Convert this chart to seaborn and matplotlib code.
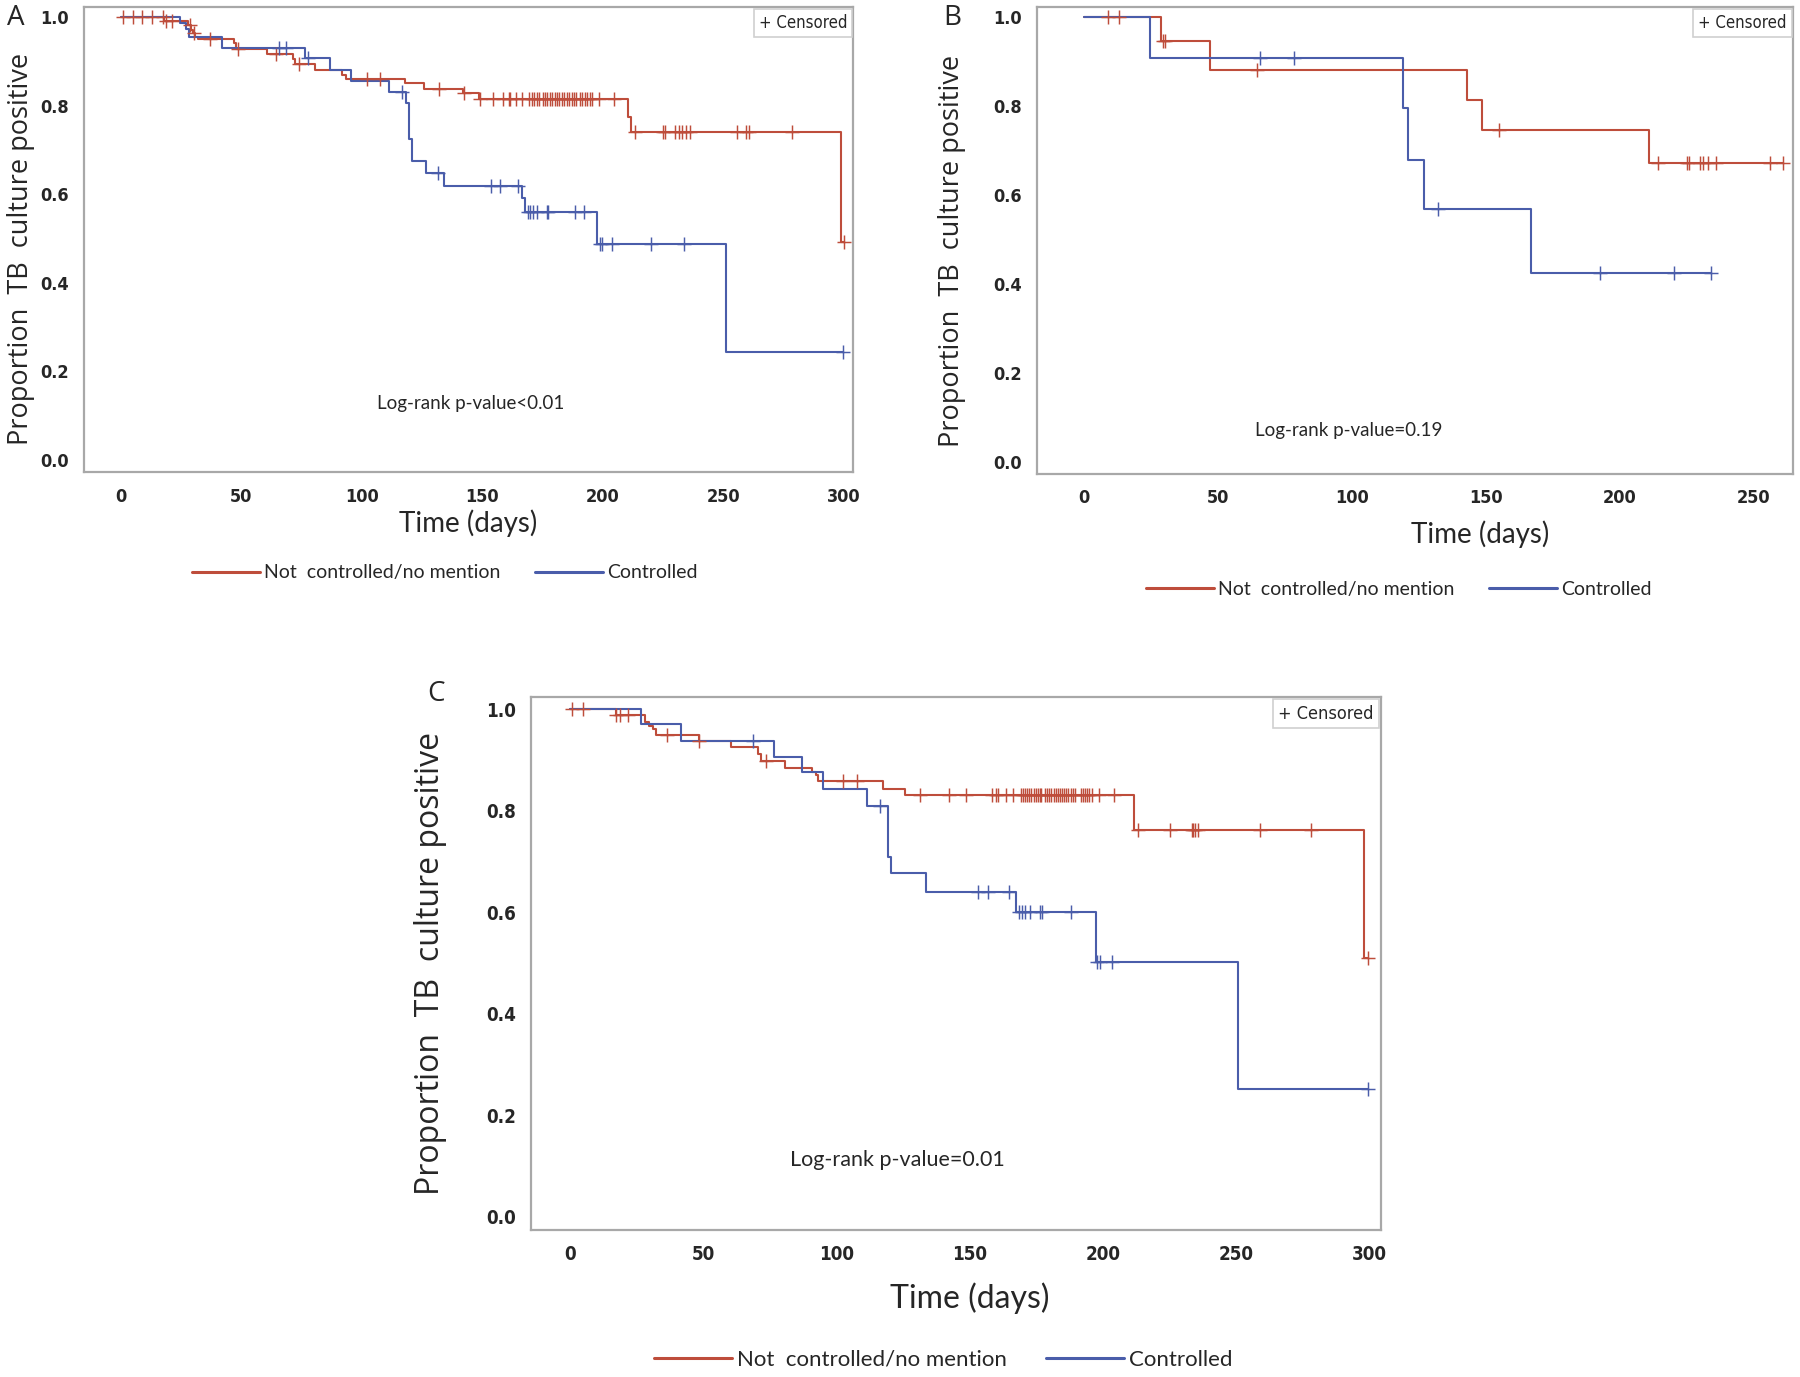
import numpy as np
import matplotlib
matplotlib.use("Agg")
import matplotlib.pyplot as plt
import seaborn as sns
from matplotlib.lines import Line2D

# ---- panel A : all patients ----
A_NC_TIMES = [18.2, 28.1, 29.3, 30.0, 31.0, 32.0, 47.2, 47.9, 60.6, 71.4, 72.5, 80.6, 92.0, 93.4,
              118.0, 125.8, 141.9, 148.8, 210.5, 211.7, 298.6]
A_NC_SURV = [0.991, 0.981, 0.971, 0.964, 0.956, 0.950, 0.941, 0.928, 0.916, 0.905, 0.894, 0.881, 0.869, 0.860,
             0.850, 0.837, 0.828, 0.815, 0.775, 0.740, 0.493]
A_NC_CENS = [1, 5, 9, 13, 17.5, 19, 21.5, 29, 30.5, 37, 48.5, 64.5, 74, 102, 107.5, 132, 142.5, 149,
             154.5, 158.5, 161, 161.5, 164, 166.5, 169.5, 170.5, 171.5, 172.5, 173.5, 175, 176, 177, 178,
             179, 180, 181, 182, 183, 184, 185, 186, 187, 188, 189, 190.5, 191.5, 192.5, 193.5, 194.5,
             195.5, 198.5, 204.5, 213.5, 224.8, 225.6, 229.8, 231.5, 233, 234.5, 236, 255.5, 259.3,
             260.4, 278.4, 300]
A_C_TIMES = [24.7, 27.1, 28.2, 41.9, 76.5, 86.9, 95.4, 111.3, 118.4, 119.7, 120.7, 126.5, 134.0,
             166.6, 167.8, 197.7, 250.9]
A_C_SURV = [0.986, 0.973, 0.955, 0.930, 0.907, 0.881, 0.856, 0.830, 0.807, 0.725, 0.674, 0.647, 0.619,
            0.591, 0.559, 0.488, 0.244]
A_C_CENS = [65.7, 68.6, 77.9, 116.8, 131.8, 153.6, 157.5, 165, 168.8, 169.9, 171, 172.8, 177, 177.4,
            188.4, 192.3, 198.7, 199.5, 203.9, 219.9, 233.6, 299.7]

# ---- panel B ----
B_NC_TIMES = [28.8, 47.0, 143.0, 148.8, 211.0]
B_NC_SURV = [0.946, 0.882, 0.813, 0.747, 0.673]
B_NC_CENS = [9.2, 13, 29.7, 30.5, 64.8, 154.9, 214.3, 225.3, 226, 230, 231.2, 232.9, 235.8, 256, 261]
B_C_TIMES = [24.7, 119.0, 121.0, 126.9, 166.8]
B_C_SURV = [0.908, 0.796, 0.680, 0.569, 0.425]
B_C_CENS = [65.8, 78.4, 132.3, 192.7, 220.1, 234.1]

# ---- panel C ----
C_NC_TIMES = [17.3, 28.0, 29.5, 31.0, 32.2, 48.2, 60.5, 70.7, 71.7, 80.5, 90.7, 92.4, 93.0,
              117.6, 125.8, 211.7, 298.1]
C_NC_SURV = [0.990, 0.976, 0.967, 0.961, 0.950, 0.938, 0.926, 0.913, 0.898, 0.885, 0.876, 0.870, 0.859,
             0.844, 0.832, 0.763, 0.511]
C_NC_CENS = [0.7, 4.9, 17.3, 18.6, 21.6, 36.3, 48.5, 73.6, 102.3, 107.6, 131.4, 142.3, 148.5, 158.3,
             160, 160.6, 163.5, 166.4, 169.3, 170, 170.8, 171.6, 172.4, 173.2, 174, 174.8, 175.6, 176.4,
             176.8, 178.3, 179.1, 179.9, 180.7, 181.5, 182.3, 183.1, 183.9, 184.7, 185.5, 186.3, 187.1,
             187.9, 188.7, 189.6, 191.8, 192.6, 193.4, 194.2, 195, 195.8, 198.6, 204.2, 213.1, 225.4,
             233.3, 234, 234.6, 235.8, 259.2, 278.1, 299.4]
C_C_TIMES = [26.5, 41.7, 76.4, 87.0, 95.1, 111.4, 119.3, 120.5, 133.7, 167.5, 197.3, 250.6]
C_C_SURV = [0.972, 0.938, 0.906, 0.876, 0.843, 0.809, 0.709, 0.677, 0.641, 0.601, 0.502, 0.252]
C_C_CENS = [68.6, 116.4, 153, 157, 164.6, 168.6, 169.5, 170.8, 172.7, 176.6, 177, 188.1, 197.9, 198.9,
            203.6, 299.4]

GROUPS = ["Not  controlled/no mention", "Controlled"]
RED = "#BE4D3B"
BLUE = "#4A5DAA"
AXIS_GRAY = "#A8A8A8"

sns.set_style("white")
NARROW = ["DejaVu Sans"]
CALIBRI = ["Lato", "DejaVu Sans"]
WIDE = ["Open Sans", "DejaVu Sans"]


def step_xy(times, surv, end):
    xs = [0.0] + list(times) + [end]
    ys = [1.0] + list(surv) + [surv[-1]]
    return xs, ys


def surv_at(times, surv, t):
    idx = np.searchsorted(np.asarray(times), t, side="right")
    return 1.0 if idx == 0 else surv[idx - 1]


def km_panel(ax, curves, xticks, xlim, ylim, pval, pval_xy, sizes):
    for times, surv, cens, color in curves:
        end = max(cens[-1], times[-1])
        xs, ys = step_xy(times, surv, end)
        sns.lineplot(x=xs, y=ys, ax=ax, color=color, lw=1.5, drawstyle="steps-post",
                     estimator=None, sort=False)
        cy = [surv_at(times, surv, t) for t in cens]
        sns.scatterplot(x=cens, y=cy, ax=ax, color=color, marker="+", s=95,
                        linewidth=1.05, legend=False, zorder=3)

    ax.set_xlim(*xlim)
    ax.set_ylim(*ylim)
    ax.set_xticks(xticks)
    ax.set_yticks([0.0, 0.2, 0.4, 0.6, 0.8, 1.0])
    ax.set_yticklabels([f"{v:.1f}" for v in [0.0, 0.2, 0.4, 0.6, 0.8, 1.0]])
    for lab in ax.get_xticklabels() + ax.get_yticklabels():
        lab.set_family(NARROW)
        lab.set_fontstretch("condensed")
        lab.set_fontweight("bold")
        lab.set_fontsize(sizes["tick"])
    ax.tick_params(axis="both", length=6, width=1.2, color=AXIS_GRAY, direction="out", pad=5)
    for sp in ax.spines.values():
        sp.set_color(AXIS_GRAY)
        sp.set_linewidth(1.6)

    ax.set_xlabel("Time (days)", family=CALIBRI, fontsize=sizes["xlabel"])
    ax.set_ylabel("Proportion  TB  culture positive", family=WIDE, fontsize=sizes["ylabel"])
    ax.text(pval_xy[0], pval_xy[1], pval, ha="center", va="center",
            family=CALIBRI, fontsize=sizes["pval"])
    ax.text(0.992, 0.985, "+ Censored", transform=ax.transAxes, ha="right", va="top",
            family=NARROW, fontstretch="condensed", fontsize=sizes["cens"],
            bbox=dict(boxstyle="square,pad=0.3", fc="white", ec="#D0D0D0", lw=1.2))


def bottom_legend(fig, xy, sizes):
    handles = [Line2D([0], [0], color=RED, lw=2.2), Line2D([0], [0], color=BLUE, lw=2.2)]
    leg = fig.legend(handles, GROUPS, loc="center", bbox_to_anchor=xy, ncol=2, frameon=False,
                     handlelength=3.5, handletextpad=0.2, columnspacing=1.8,
                     prop={"family": CALIBRI, "size": sizes["legend"]})
    return leg


fig = plt.figure(figsize=(18, 13.77), dpi=100)

axA = fig.add_axes([0.0466, 0.657, 0.4274, 0.338])
axB = fig.add_axes([0.576, 0.656, 0.420, 0.339])
axC = fig.add_axes([0.295, 0.107, 0.472, 0.387])

size_top = dict(tick=13, xlabel=20, ylabel=19.5, pval=13.5, cens=12, legend=14)
size_c = dict(tick=13.5, xlabel=23, ylabel=23, pval=15.5, cens=13, legend=16)

km_panel(axA, [(A_NC_TIMES, A_NC_SURV, A_NC_CENS, RED), (A_C_TIMES, A_C_SURV, A_C_CENS, BLUE)],
         [0, 50, 100, 150, 200, 250, 300], (-15.2, 303.8), (-0.028, 1.023),
         "Log-rank p-value<0.01", (145, 0.127), size_top)
km_panel(axB, [(B_NC_TIMES, B_NC_SURV, B_NC_CENS, RED), (B_C_TIMES, B_C_SURV, B_C_CENS, BLUE)],
         [0, 50, 100, 150, 200, 250], (-17.5, 264.6), (-0.026, 1.023),
         "Log-rank p-value=0.19", (99, 0.072), size_top)
km_panel(axC, [(C_NC_TIMES, C_NC_SURV, C_NC_CENS, RED), (C_C_TIMES, C_C_SURV, C_C_CENS, BLUE)],
         [0, 50, 100, 150, 200, 250, 300], (-14.7, 304.3), (-0.025, 1.025),
         "Log-rank p-value=0.01", (123, 0.113), size_c)

axA.xaxis.set_label_coords(0.5, -0.08)
axA.yaxis.set_label_coords(-0.064, 0.48)
axB.xaxis.set_label_coords(0.587, -0.10)
axB.yaxis.set_label_coords(-0.093, 0.477)
axC.xaxis.set_label_coords(0.517, -0.099)
axC.yaxis.set_label_coords(-0.099, 0.5)

bottom_legend(fig, (0.247, 0.584), size_top)
bottom_legend(fig, (0.777, 0.572), size_top)
bottom_legend(fig, (0.524, 0.0125), size_c)

for lab, (x, y) in zip("ABC", [(0.009, 0.987), (0.529, 0.987), (0.242, 0.496)]):
    fig.text(x, y, lab, ha="center", va="center", family=WIDE, fontsize=20)

fig.savefig("out.png", dpi=100)
